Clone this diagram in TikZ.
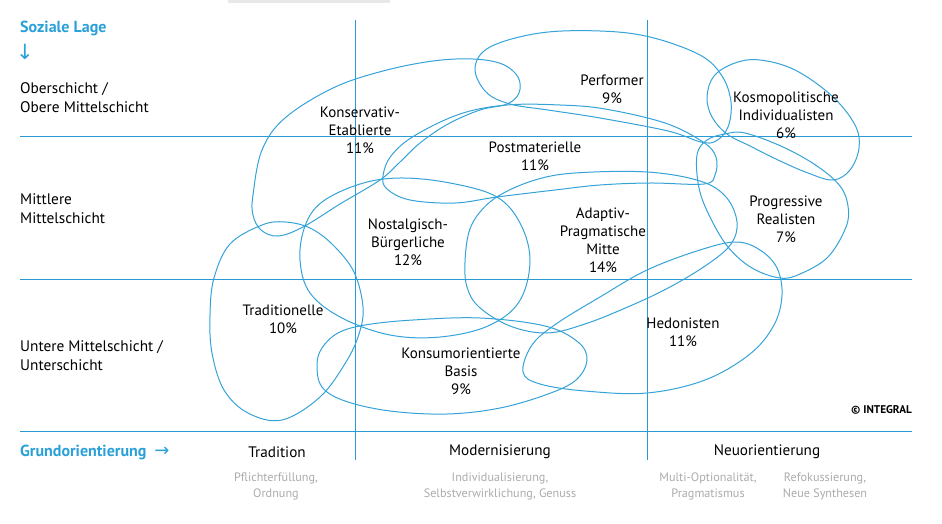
\documentclass[tikz,border=0pt]{standalone}
\usepackage{fontspec}
\setmainfont{PT Sans}
\newfontfamily\arrowfont{DejaVu Sans}
\definecolor{lineblue}{HTML}{35A2D8}
\definecolor{gridblue}{HTML}{2A9AD2}
\definecolor{headblue}{HTML}{2AA0D8}
\definecolor{subgray}{HTML}{ABABAB}
\definecolor{tabgray}{HTML}{E8E8E8}
\tikzset{
  blob/.style={draw=lineblue, line width=1pt},
  gridline/.style={draw=gridblue, line width=1pt},
  mlabel/.style={align=center, inner sep=0pt, font=\fontsize{15}{18}\selectfont},
  rowlabel/.style={anchor=west, align=left, inner sep=0pt, font=\fontsize{15.3}{19}\selectfont},
  headlabel/.style={anchor=west, inner sep=0pt, text=headblue, font=\fontsize{16}{18}\selectfont\bfseries},
  collabel/.style={inner sep=0pt, font=\fontsize{15.2}{18}\selectfont},
  sublabel/.style={align=center, inner sep=0pt, text=subgray, font=\fontsize{12.2}{16}\selectfont},
}
\begin{document}
\begin{tikzpicture}[x=1pt,y=-1pt]
\useasboundingbox (0,0) rectangle (942,524);
\fill[tabgray] (228,0) rectangle (390,3);

% grid
\draw[gridline] (20,137) -- (912,137);
\draw[gridline] (20,279) -- (912,279);
\draw[gridline] (20,431) -- (912,431);
\draw[gridline] (355,20) -- (355,460);
\draw[gridline] (647,20) -- (647,460);

% blobs
% Konservativ-Etablierte
\draw[blob] plot[smooth cycle, tension=0.6] coordinates {
 (253,195) (262,150) (285,118) (333,88) (383,71) (433,61) (473,59) (502,64)
 (518,77) (519,93) (507,104) (480,110) (448,124) (420,143) (400,162) (380,180) (340,204)
 (303,227) (278,236) (261,230) (253,215)};
% Performer
\draw[blob] plot[smooth cycle, tension=0.6] coordinates {
 (475,68) (490,47) (540,33) (600,31) (650,37) (700,55) (722,76) (731,102)
 (728,127) (716,141) (701,142) (668,131) (600,118) (548,110) (510,104) (486,92)};
% Kosmopolitische Individualisten
\draw[blob] plot[smooth cycle, tension=0.6] coordinates {
 (727,134) (712,117) (707,97) (714,76) (735,63) (760,60) (795,70) (832,96)
 (855,125) (859,148) (850,170) (833,180) (808,173) (778,160) (750,146)};
% Postmaterielle
\draw[blob] plot[smooth cycle, tension=0.6] coordinates {
 (383,176) (391,156) (414,136) (460,114) (507,105) (560,105) (605,109) (665,123)
 (703,142) (716,157) (715,175) (704,184) (650,183) (600,185) (555,190) (497,197)
 (455,203) (410,200) (387,189)};
% Nostalgisch-Buergerliche
\draw[blob] plot[smooth cycle, tension=0.6] coordinates {
 (300,260) (305,226) (322,202) (360,184) (400,178) (450,183) (497,197) (521,225)
 (530,262) (519,302) (488,326) (440,337) (390,335) (342,318) (310,293)};
% Adaptiv-Pragmatische Mitte
\draw[blob] plot[smooth cycle, tension=0.6] coordinates {
 (465,262) (469,232) (480,212) (500,195) (535,180) (575,173) (647,172) (700,181)
 (726,197) (737,222) (731,244) (708,264) (670,287) (630,306) (585,324) (547,333)
 (510,326) (479,307) (467,287)};
% Progressive Realisten
\draw[blob] plot[smooth cycle, tension=0.6] coordinates {
 (697,155) (707,140) (725,134) (745,133) (783,147) (817,166) (840,186) (848,206)
 (846,227) (828,257) (800,274) (780,278) (752,268) (728,247) (710,217) (699,188)};
% Traditionelle
\draw[blob] plot[smooth cycle, tension=0.6] coordinates {
 (210,315) (214,278) (230,244) (262,225) (285,222) (310,228) (333,245) (354,272)
 (363,307) (359,334) (346,362) (320,397) (282,420) (248,413) (224,390) (212,353)};
% Konsumorientierte Basis
\draw[blob] plot[smooth cycle, tension=0.6] coordinates {
 (317,365) (322,348) (338,333) (365,325) (413,320) (480,318) (545,326) (578,342)
 (587,360) (576,380) (548,394) (500,408) (447,414) (390,411) (345,401) (322,387)};
% Hedonisten
\draw[blob] plot[smooth cycle, tension=0.6] coordinates {
 (523,372) (532,345) (556,324) (600,297) (647,270) (700,250) (736,242) (760,250)
 (777,268) (782,295) (774,325) (750,354) (705,380) (647,393) (585,391) (540,384)};

% row labels
\node[headlabel] (soz) at (20,28) {Soziale Lage};
\node[anchor=west, inner sep=0pt, text=headblue, font=\arrowfont\fontsize{21}{22}\selectfont] (down) at (16,52) {↓};
\node[rowlabel] (ober) at (20,98) {Oberschicht /\\Obere Mittelschicht};
\node[rowlabel] (mitt) at (20,209) {Mittlere\\Mittelschicht};
\node[rowlabel] (unt) at (20,356) {Untere Mittelschicht /\\Unterschicht};

% milieu labels
\node[mlabel] (kons) at (360,130) {Konservativ-\\Etablierte\\11\%};
\node[mlabel] (perf) at (612,89) {Performer\\9\%};
\node[mlabel] (kosm) at (786,115) {Kosmopolitische\\Individualisten\\6\%};
\node[mlabel] (post) at (535,156) {Postmaterielle\\11\%};
\node[mlabel] (nost) at (408,242) {Nostalgisch-\\Bürgerliche\\12\%};
\node[mlabel] (adap) at (603,240) {Adaptiv-\\Pragmatische\\Mitte\\14\%};
\node[mlabel] (prog) at (786,219) {Progressive\\Realisten\\7\%};
\node[mlabel] (trad) at (283,319) {Traditionelle\\10\%};
\node[mlabel] (hedo) at (683,332) {Hedonisten\\11\%};
\node[mlabel] (kons2) at (461,371) {Konsumorientierte\\Basis\\9\%};

\node[anchor=east, inner sep=0pt, font=\fontsize{11.2}{12}\selectfont\bfseries] (copy) at (912,410) {© INTEGRAL};

% bottom axis
\node[headlabel] (grund) at (20,452) {Grundorientierung\hspace{8pt}{\arrowfont\mdseries\fontsize{18}{18}\selectfont →}};
\node[collabel] (ctrad) at (277,452) {Tradition};
\node[collabel] (cmod) at (500,452) {Modernisierung};
\node[collabel] (cneu) at (767,452) {Neuorientierung};
\node[sublabel] (s1) at (276,486) {Pflichterfüllung,\\Ordnung};
\node[sublabel] (s2) at (500,486) {Individualisierung,\\Selbstverwirklichung, Genuss};
\node[sublabel] (s3) at (708,486) {Multi-Optionalität,\\Pragmatismus};
\node[sublabel] (s4) at (825,486) {Refokussierung,\\Neue Synthesen};
\end{tikzpicture}
\end{document}
